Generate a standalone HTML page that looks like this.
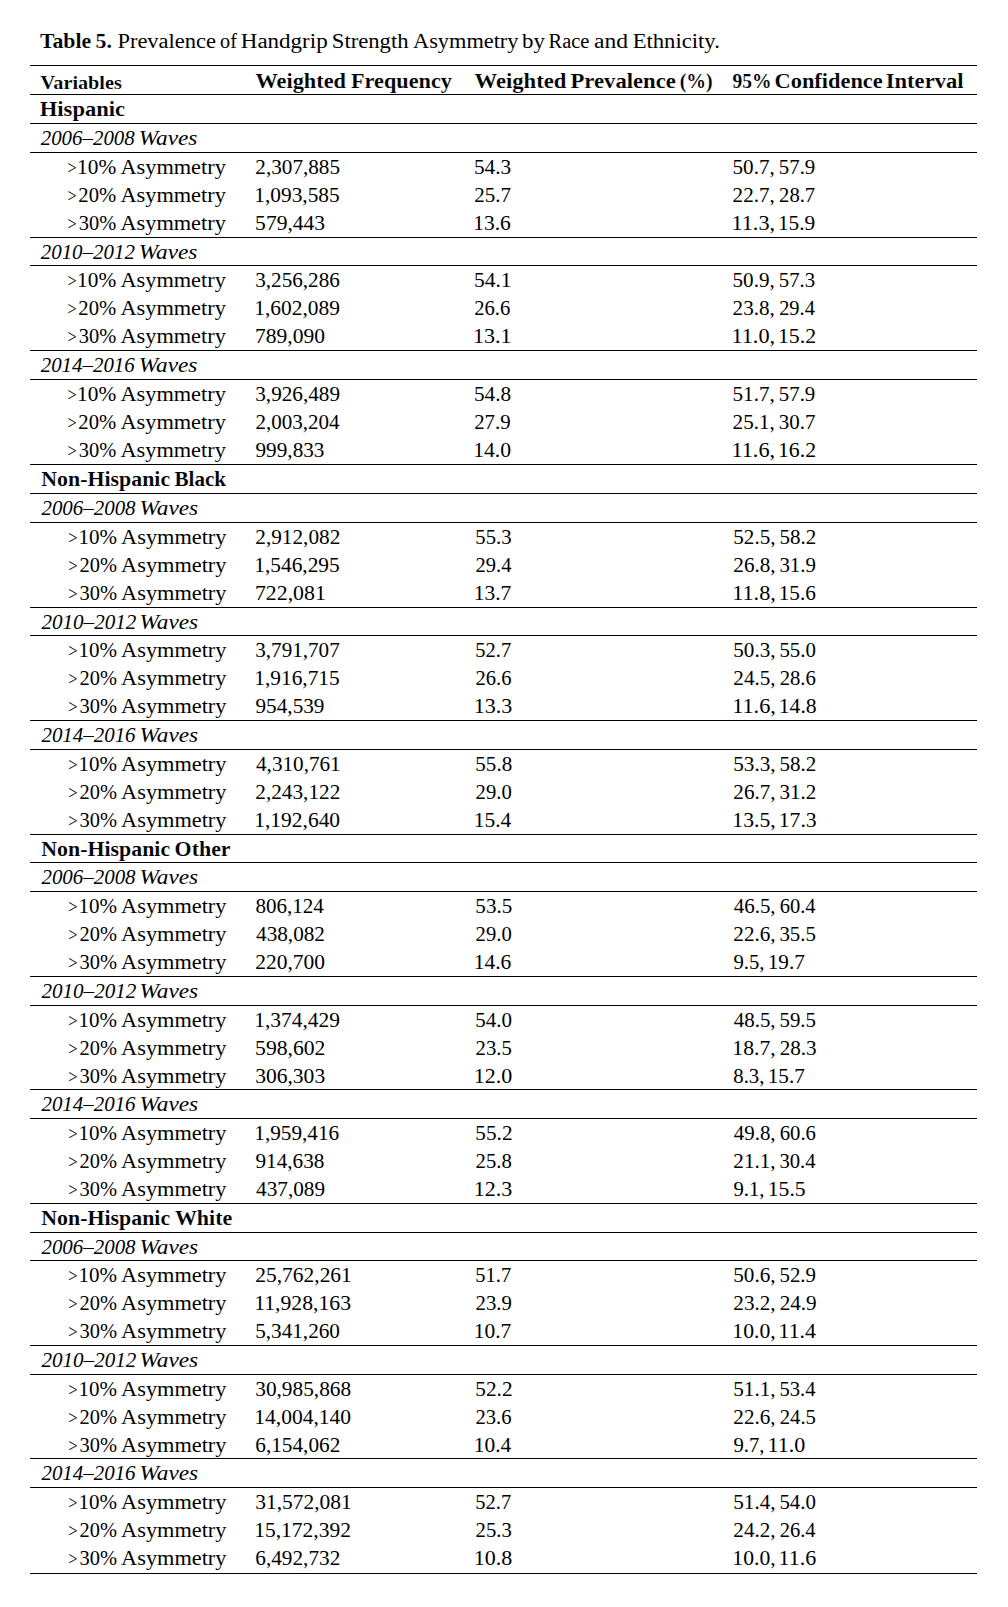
<!DOCTYPE html>
<html><head><meta charset="utf-8"><title>Table 5</title><style>*{margin:0;padding:0}
html,body{width:1008px;height:1607px;background:#fff;overflow:hidden}
body{position:relative;font-family:"Liberation Serif",serif;color:#000;font-size:20.5px;line-height:20.5px}
.l{position:absolute;left:30px;width:947px;height:1px;background:#000}
.x{position:absolute;white-space:nowrap;transform-origin:0 0}
.tb,.b,.h,.v{font-weight:bold}
.i{font-style:italic}
.v{font-size:18.3px;line-height:18.3px}
.g{font-size:18.5px;line-height:18.5px}
.tb,.b,.h,.v{-webkit-text-stroke:0.12px #fff}</style></head><body>
<div class="l" style="top:65px"></div>
<div class="l" style="top:94px"></div>
<div class="l" style="top:123px"></div>
<div class="l" style="top:152px"></div>
<div class="l" style="top:237px"></div>
<div class="l" style="top:265px"></div>
<div class="l" style="top:350px"></div>
<div class="l" style="top:379px"></div>
<div class="l" style="top:464px"></div>
<div class="l" style="top:493px"></div>
<div class="l" style="top:522px"></div>
<div class="l" style="top:607px"></div>
<div class="l" style="top:635px"></div>
<div class="l" style="top:720px"></div>
<div class="l" style="top:749px"></div>
<div class="l" style="top:834px"></div>
<div class="l" style="top:862px"></div>
<div class="l" style="top:891px"></div>
<div class="l" style="top:976px"></div>
<div class="l" style="top:1005px"></div>
<div class="l" style="top:1089px"></div>
<div class="l" style="top:1118px"></div>
<div class="l" style="top:1203px"></div>
<div class="l" style="top:1232px"></div>
<div class="l" style="top:1260px"></div>
<div class="l" style="top:1345px"></div>
<div class="l" style="top:1374px"></div>
<div class="l" style="top:1458px"></div>
<div class="l" style="top:1487px"></div>
<div class="l" style="top:1573px"></div>
<div class="x tb" id="e0" style="left:39px;top:31.23px;transform:matrix(1.0624,0,0,1,0.95,0)">Table</div>
<div class="x tb" id="e1" style="left:95px;top:31.23px;transform:matrix(1.0643,0,0,1,0.62,0)">5.</div>
<div class="x t" id="e2" style="left:117px;top:31.23px;transform:matrix(1.0964,0,0,1,0.41,0)">Prevalence</div>
<div class="x t" id="e3" style="left:220px;top:31.23px;transform:matrix(0.9841,0,0,1,0.05,0)">of</div>
<div class="x t" id="e4" style="left:240px;top:31.23px;transform:matrix(1.1219,0,0,1,0.78,0)">Handgrip</div>
<div class="x t" id="e5" style="left:331px;top:31.23px;transform:matrix(1.1041,0,0,1,0.82,0)">Strength</div>
<div class="x t" id="e6" style="left:413px;top:31.23px;transform:matrix(1.0889,0,0,1,0.06,0)">Asymmetry</div>
<div class="x t" id="e7" style="left:522px;top:31.23px;transform:matrix(1.1173,0,0,1,0.11,0)">by</div>
<div class="x t" id="e8" style="left:548px;top:31.23px;transform:matrix(0.9981,0,0,1,0.50,0)">Race</div>
<div class="x t" id="e9" style="left:594px;top:31.23px;transform:matrix(1.1495,0,0,1,0.03,0)">and</div>
<div class="x t" id="e10" style="left:632px;top:31.23px;transform:matrix(1.1050,0,0,1,0.65,0)">Ethnicity.</div>
<div class="x v" id="e11" style="left:40px;top:73.87px;transform:matrix(1.1063,0,0,1,0.54,0)">Variables</div>
<div class="x h" id="e12" style="left:255px;top:71.43px;transform:matrix(1.0885,0,0,1,0.48,0)">Weighted</div>
<div class="x h" id="e13" style="left:351px;top:71.43px;transform:matrix(1.0844,0,0,1,0.01,0)">Frequency</div>
<div class="x h" id="e14" style="left:474px;top:71.43px;transform:matrix(1.1062,0,0,1,0.47,0)">Weighted</div>
<div class="x h" id="e15" style="left:570px;top:71.43px;transform:matrix(1.1063,0,0,1,0.49,0)">Prevalence</div>
<div class="x h" id="e16" style="left:679px;top:71.43px;transform:matrix(0.9632,0,0,1,0.66,0)">(%)</div>
<div class="x h" id="e17" style="left:732px;top:71.43px;transform:matrix(0.9512,0,0,1,0.48,0)">95%</div>
<div class="x h" id="e18" style="left:774px;top:71.43px;transform:matrix(1.0916,0,0,1,0.56,0)">Confidence</div>
<div class="x h" id="e19" style="left:885px;top:71.43px;transform:matrix(1.1038,0,0,1,0.67,0)">Interval</div>
<div class="x b" id="e20" style="left:39px;top:98.53px;transform:matrix(1.1013,0,0,1,0.76,0)">Hispanic</div>
<div class="x i" id="e21" style="left:40px;top:127.53px;transform:matrix(1.0199,0,0,1,0.69,0)">2006–2008</div>
<div class="x i" id="e22" style="left:138px;top:127.53px;transform:matrix(1.1354,0,0,1,0.74,0)">Waves</div>
<div class="x g" id="e23" style="left:67px;top:159.41px;transform:matrix(0.8776,0,0,1,0.62,0)">&gt;</div>
<div class="x r" id="e24" style="left:77px;top:156.73px;transform:matrix(1.0397,0,0,1,0.08,0)">10%</div>
<div class="x r" id="e25" style="left:120px;top:156.73px;transform:matrix(1.0888,0,0,1,0.42,0)">Asymmetry</div>
<div class="x n" id="e26" style="left:255px;top:156.73px;transform:matrix(1.0329,0,0,1,0.32,0)">2,307,885</div>
<div class="x n" id="e27" style="left:473px;top:156.73px;transform:matrix(1.0377,0,0,1,0.98,0)">54.3</div>
<div class="x n" id="e28" style="left:732px;top:156.73px;transform:matrix(1.0299,0,0,1,0.54,0)">50.7,</div>
<div class="x n" id="e29" style="left:778px;top:156.73px;transform:matrix(1.0164,0,0,1,0.80,0)">57.9</div>
<div class="x g" id="e30" style="left:67px;top:187.31px;transform:matrix(0.8776,0,0,1,0.62,0)">&gt;</div>
<div class="x r" id="e31" style="left:78px;top:184.63px;transform:matrix(1.0068,0,0,1,0.31,0)">20%</div>
<div class="x r" id="e32" style="left:120px;top:184.63px;transform:matrix(1.0888,0,0,1,0.42,0)">Asymmetry</div>
<div class="x n" id="e33" style="left:254px;top:184.63px;transform:matrix(1.0420,0,0,1,0.25,0)">1,093,585</div>
<div class="x n" id="e34" style="left:474px;top:184.63px;transform:matrix(1.0232,0,0,1,0.30,0)">25.7</div>
<div class="x n" id="e35" style="left:732px;top:184.63px;transform:matrix(1.0287,0,0,1,0.60,0)">22.7,</div>
<div class="x n" id="e36" style="left:779px;top:184.63px;transform:matrix(1.0039,0,0,1,0.11,0)">28.7</div>
<div class="x g" id="e37" style="left:67px;top:215.21px;transform:matrix(0.8776,0,0,1,0.62,0)">&gt;</div>
<div class="x r" id="e38" style="left:78px;top:212.53px;transform:matrix(0.9958,0,0,1,0.72,0)">30%</div>
<div class="x r" id="e39" style="left:120px;top:212.53px;transform:matrix(1.0888,0,0,1,0.42,0)">Asymmetry</div>
<div class="x n" id="e40" style="left:255px;top:212.53px;transform:matrix(1.0509,0,0,1,0.12,0)">579,443</div>
<div class="x n" id="e41" style="left:473px;top:212.53px;transform:matrix(1.0445,0,0,1,0.24,0)">13.6</div>
<div class="x n" id="e42" style="left:731px;top:212.53px;transform:matrix(1.0849,0,0,1,0.43,0)">11.3,</div>
<div class="x n" id="e43" style="left:777px;top:212.53px;transform:matrix(1.0400,0,0,1,0.94,0)">15.9</div>
<div class="x i" id="e44" style="left:40px;top:241.53px;transform:matrix(1.0217,0,0,1,0.70,0)">2010–2012</div>
<div class="x i" id="e45" style="left:138px;top:241.53px;transform:matrix(1.1354,0,0,1,0.74,0)">Waves</div>
<div class="x g" id="e46" style="left:67px;top:272.41px;transform:matrix(0.8776,0,0,1,0.62,0)">&gt;</div>
<div class="x r" id="e47" style="left:77px;top:269.73px;transform:matrix(1.0397,0,0,1,0.08,0)">10%</div>
<div class="x r" id="e48" style="left:120px;top:269.73px;transform:matrix(1.0888,0,0,1,0.42,0)">Asymmetry</div>
<div class="x n" id="e49" style="left:255px;top:269.73px;transform:matrix(1.0307,0,0,1,0.25,0)">3,256,286</div>
<div class="x n" id="e50" style="left:473px;top:269.73px;transform:matrix(1.0494,0,0,1,0.94,0)">54.1</div>
<div class="x n" id="e51" style="left:732px;top:269.73px;transform:matrix(1.0299,0,0,1,0.54,0)">50.9,</div>
<div class="x n" id="e52" style="left:778px;top:269.73px;transform:matrix(1.0157,0,0,1,0.80,0)">57.3</div>
<div class="x g" id="e53" style="left:67px;top:300.31px;transform:matrix(0.8776,0,0,1,0.62,0)">&gt;</div>
<div class="x r" id="e54" style="left:78px;top:297.63px;transform:matrix(1.0068,0,0,1,0.31,0)">20%</div>
<div class="x r" id="e55" style="left:120px;top:297.63px;transform:matrix(1.0888,0,0,1,0.42,0)">Asymmetry</div>
<div class="x n" id="e56" style="left:254px;top:297.63px;transform:matrix(1.0451,0,0,1,0.25,0)">1,602,089</div>
<div class="x n" id="e57" style="left:474px;top:297.63px;transform:matrix(1.0036,0,0,1,0.30,0)">26.6</div>
<div class="x n" id="e58" style="left:732px;top:297.63px;transform:matrix(1.0287,0,0,1,0.60,0)">23.8,</div>
<div class="x n" id="e59" style="left:779px;top:297.63px;transform:matrix(0.9957,0,0,1,0.16,0)">29.4</div>
<div class="x g" id="e60" style="left:67px;top:328.21px;transform:matrix(0.8776,0,0,1,0.62,0)">&gt;</div>
<div class="x r" id="e61" style="left:78px;top:325.53px;transform:matrix(0.9958,0,0,1,0.72,0)">30%</div>
<div class="x r" id="e62" style="left:120px;top:325.53px;transform:matrix(1.0888,0,0,1,0.42,0)">Asymmetry</div>
<div class="x n" id="e63" style="left:254px;top:325.53px;transform:matrix(1.0508,0,0,1,1.00,0)">789,090</div>
<div class="x n" id="e64" style="left:473px;top:325.53px;transform:matrix(1.0736,0,0,1,0.09,0)">13.1</div>
<div class="x n" id="e65" style="left:731px;top:325.53px;transform:matrix(1.0849,0,0,1,0.43,0)">11.0,</div>
<div class="x n" id="e66" style="left:777px;top:325.53px;transform:matrix(1.0624,0,0,1,0.94,0)">15.2</div>
<div class="x i" id="e67" style="left:40px;top:354.53px;transform:matrix(1.0197,0,0,1,0.69,0)">2014–2016</div>
<div class="x i" id="e68" style="left:138px;top:354.53px;transform:matrix(1.1354,0,0,1,0.74,0)">Waves</div>
<div class="x g" id="e69" style="left:67px;top:386.41px;transform:matrix(0.8776,0,0,1,0.62,0)">&gt;</div>
<div class="x r" id="e70" style="left:77px;top:383.73px;transform:matrix(1.0397,0,0,1,0.08,0)">10%</div>
<div class="x r" id="e71" style="left:120px;top:383.73px;transform:matrix(1.0888,0,0,1,0.42,0)">Asymmetry</div>
<div class="x n" id="e72" style="left:255px;top:383.73px;transform:matrix(1.0333,0,0,1,0.24,0)">3,926,489</div>
<div class="x n" id="e73" style="left:473px;top:383.73px;transform:matrix(1.0361,0,0,1,0.98,0)">54.8</div>
<div class="x n" id="e74" style="left:732px;top:383.73px;transform:matrix(1.0299,0,0,1,0.54,0)">51.7,</div>
<div class="x n" id="e75" style="left:778px;top:383.73px;transform:matrix(1.0164,0,0,1,0.80,0)">57.9</div>
<div class="x g" id="e76" style="left:67px;top:414.31px;transform:matrix(0.8776,0,0,1,0.62,0)">&gt;</div>
<div class="x r" id="e77" style="left:78px;top:411.63px;transform:matrix(1.0068,0,0,1,0.31,0)">20%</div>
<div class="x r" id="e78" style="left:120px;top:411.63px;transform:matrix(1.0888,0,0,1,0.42,0)">Asymmetry</div>
<div class="x n" id="e79" style="left:255px;top:411.63px;transform:matrix(1.0261,0,0,1,0.39,0)">2,003,204</div>
<div class="x n" id="e80" style="left:474px;top:411.63px;transform:matrix(1.0141,0,0,1,0.15,0)">27.9</div>
<div class="x n" id="e81" style="left:732px;top:411.63px;transform:matrix(1.0287,0,0,1,0.60,0)">25.1,</div>
<div class="x n" id="e82" style="left:778px;top:411.63px;transform:matrix(1.0217,0,0,1,0.72,0)">30.7</div>
<div class="x g" id="e83" style="left:67px;top:442.21px;transform:matrix(0.8776,0,0,1,0.62,0)">&gt;</div>
<div class="x r" id="e84" style="left:78px;top:439.53px;transform:matrix(0.9958,0,0,1,0.72,0)">30%</div>
<div class="x r" id="e85" style="left:120px;top:439.53px;transform:matrix(1.0888,0,0,1,0.42,0)">Asymmetry</div>
<div class="x n" id="e86" style="left:255px;top:439.53px;transform:matrix(1.0345,0,0,1,0.52,0)">999,833</div>
<div class="x n" id="e87" style="left:473px;top:439.53px;transform:matrix(1.0546,0,0,1,0.14,0)">14.0</div>
<div class="x n" id="e88" style="left:731px;top:439.53px;transform:matrix(1.0849,0,0,1,0.43,0)">11.6,</div>
<div class="x n" id="e89" style="left:777px;top:439.53px;transform:matrix(1.0624,0,0,1,0.94,0)">16.2</div>
<div class="x b" id="e90" style="left:41px;top:468.53px;transform:matrix(1.0666,0,0,1,0.32,0)">Non-Hispanic</div>
<div class="x b" id="e91" style="left:174px;top:468.53px;transform:matrix(1.0309,0,0,1,0.45,0)">Black</div>
<div class="x i" id="e92" style="left:41px;top:497.53px;transform:matrix(1.0206,0,0,1,0.42,0)">2006–2008</div>
<div class="x i" id="e93" style="left:139px;top:497.53px;transform:matrix(1.1345,0,0,1,0.53,0)">Waves</div>
<div class="x g" id="e94" style="left:68px;top:529.41px;transform:matrix(0.8952,0,0,1,0.28,0)">&gt;</div>
<div class="x r" id="e95" style="left:78px;top:526.73px;transform:matrix(1.0249,0,0,1,0.45,0)">10%</div>
<div class="x r" id="e96" style="left:121px;top:526.73px;transform:matrix(1.0879,0,0,1,0.12,0)">Asymmetry</div>
<div class="x n" id="e97" style="left:255px;top:526.73px;transform:matrix(1.0364,0,0,1,0.29,0)">2,912,082</div>
<div class="x n" id="e98" style="left:475px;top:526.73px;transform:matrix(1.0071,0,0,1,0.36,0)">55.3</div>
<div class="x n" id="e99" style="left:733px;top:526.73px;transform:matrix(1.0310,0,0,1,0.25,0)">52.5,</div>
<div class="x n" id="e100" style="left:779px;top:526.73px;transform:matrix(1.0247,0,0,1,0.44,0)">58.2</div>
<div class="x g" id="e101" style="left:68px;top:557.31px;transform:matrix(0.8952,0,0,1,0.28,0)">&gt;</div>
<div class="x r" id="e102" style="left:79px;top:554.63px;transform:matrix(0.9944,0,0,1,0.61,0)">20%</div>
<div class="x r" id="e103" style="left:121px;top:554.63px;transform:matrix(1.0879,0,0,1,0.12,0)">Asymmetry</div>
<div class="x n" id="e104" style="left:254px;top:554.63px;transform:matrix(1.0420,0,0,1,0.25,0)">1,546,295</div>
<div class="x n" id="e105" style="left:475px;top:554.63px;transform:matrix(1.0016,0,0,1,0.56,0)">29.4</div>
<div class="x n" id="e106" style="left:733px;top:554.63px;transform:matrix(1.0299,0,0,1,0.33,0)">26.8,</div>
<div class="x n" id="e107" style="left:779px;top:554.63px;transform:matrix(1.0197,0,0,1,0.42,0)">31.9</div>
<div class="x g" id="e108" style="left:68px;top:585.21px;transform:matrix(0.8952,0,0,1,0.28,0)">&gt;</div>
<div class="x r" id="e109" style="left:79px;top:582.53px;transform:matrix(0.9974,0,0,1,0.47,0)">30%</div>
<div class="x r" id="e110" style="left:121px;top:582.53px;transform:matrix(1.0879,0,0,1,0.12,0)">Asymmetry</div>
<div class="x n" id="e111" style="left:254px;top:582.53px;transform:matrix(1.0626,0,0,1,0.98,0)">722,081</div>
<div class="x n" id="e112" style="left:473px;top:582.53px;transform:matrix(1.0452,0,0,1,0.73,0)">13.7</div>
<div class="x n" id="e113" style="left:732px;top:582.53px;transform:matrix(1.0860,0,0,1,0.13,0)">11.8,</div>
<div class="x n" id="e114" style="left:778px;top:582.53px;transform:matrix(1.0352,0,0,1,0.76,0)">15.6</div>
<div class="x i" id="e115" style="left:41px;top:611.53px;transform:matrix(1.0293,0,0,1,0.42,0)">2010–2012</div>
<div class="x i" id="e116" style="left:139px;top:611.53px;transform:matrix(1.1345,0,0,1,0.53,0)">Waves</div>
<div class="x g" id="e117" style="left:68px;top:642.41px;transform:matrix(0.8952,0,0,1,0.28,0)">&gt;</div>
<div class="x r" id="e118" style="left:78px;top:639.73px;transform:matrix(1.0249,0,0,1,0.45,0)">10%</div>
<div class="x r" id="e119" style="left:121px;top:639.73px;transform:matrix(1.0879,0,0,1,0.12,0)">Asymmetry</div>
<div class="x n" id="e120" style="left:255px;top:639.73px;transform:matrix(1.0299,0,0,1,0.25,0)">3,791,707</div>
<div class="x n" id="e121" style="left:475px;top:639.73px;transform:matrix(0.9996,0,0,1,0.35,0)">52.7</div>
<div class="x n" id="e122" style="left:733px;top:639.73px;transform:matrix(1.0310,0,0,1,0.25,0)">50.3,</div>
<div class="x n" id="e123" style="left:779px;top:639.73px;transform:matrix(1.0173,0,0,1,0.44,0)">55.0</div>
<div class="x g" id="e124" style="left:68px;top:670.31px;transform:matrix(0.8952,0,0,1,0.28,0)">&gt;</div>
<div class="x r" id="e125" style="left:79px;top:667.63px;transform:matrix(0.9944,0,0,1,0.61,0)">20%</div>
<div class="x r" id="e126" style="left:121px;top:667.63px;transform:matrix(1.0879,0,0,1,0.12,0)">Asymmetry</div>
<div class="x n" id="e127" style="left:254px;top:667.63px;transform:matrix(1.0420,0,0,1,0.25,0)">1,916,715</div>
<div class="x n" id="e128" style="left:475px;top:667.63px;transform:matrix(1.0013,0,0,1,0.56,0)">26.6</div>
<div class="x n" id="e129" style="left:733px;top:667.63px;transform:matrix(1.0299,0,0,1,0.33,0)">24.5,</div>
<div class="x n" id="e130" style="left:779px;top:667.63px;transform:matrix(1.0112,0,0,1,0.64,0)">28.6</div>
<div class="x g" id="e131" style="left:68px;top:698.21px;transform:matrix(0.8952,0,0,1,0.28,0)">&gt;</div>
<div class="x r" id="e132" style="left:79px;top:695.53px;transform:matrix(0.9974,0,0,1,0.47,0)">30%</div>
<div class="x r" id="e133" style="left:121px;top:695.53px;transform:matrix(1.0879,0,0,1,0.12,0)">Asymmetry</div>
<div class="x n" id="e134" style="left:255px;top:695.53px;transform:matrix(1.0344,0,0,1,0.52,0)">954,539</div>
<div class="x n" id="e135" style="left:473px;top:695.53px;transform:matrix(1.0746,0,0,1,0.74,0)">13.3</div>
<div class="x n" id="e136" style="left:732px;top:695.53px;transform:matrix(1.0860,0,0,1,0.13,0)">11.6,</div>
<div class="x n" id="e137" style="left:778px;top:695.53px;transform:matrix(1.0561,0,0,1,0.73,0)">14.8</div>
<div class="x i" id="e138" style="left:41px;top:724.53px;transform:matrix(1.0206,0,0,1,0.42,0)">2014–2016</div>
<div class="x i" id="e139" style="left:139px;top:724.53px;transform:matrix(1.1345,0,0,1,0.53,0)">Waves</div>
<div class="x g" id="e140" style="left:68px;top:756.41px;transform:matrix(0.8952,0,0,1,0.28,0)">&gt;</div>
<div class="x r" id="e141" style="left:78px;top:753.73px;transform:matrix(1.0249,0,0,1,0.45,0)">10%</div>
<div class="x r" id="e142" style="left:121px;top:753.73px;transform:matrix(1.0879,0,0,1,0.12,0)">Asymmetry</div>
<div class="x n" id="e143" style="left:256px;top:753.73px;transform:matrix(1.0323,0,0,1,0.04,0)">4,310,761</div>
<div class="x n" id="e144" style="left:475px;top:753.73px;transform:matrix(1.0256,0,0,1,0.36,0)">55.8</div>
<div class="x n" id="e145" style="left:733px;top:753.73px;transform:matrix(1.0310,0,0,1,0.25,0)">53.3,</div>
<div class="x n" id="e146" style="left:779px;top:753.73px;transform:matrix(1.0247,0,0,1,0.44,0)">58.2</div>
<div class="x g" id="e147" style="left:68px;top:784.31px;transform:matrix(0.8952,0,0,1,0.28,0)">&gt;</div>
<div class="x r" id="e148" style="left:79px;top:781.63px;transform:matrix(0.9944,0,0,1,0.61,0)">20%</div>
<div class="x r" id="e149" style="left:121px;top:781.63px;transform:matrix(1.0879,0,0,1,0.12,0)">Asymmetry</div>
<div class="x n" id="e150" style="left:255px;top:781.63px;transform:matrix(1.0364,0,0,1,0.29,0)">2,243,122</div>
<div class="x n" id="e151" style="left:475px;top:781.63px;transform:matrix(1.0067,0,0,1,0.60,0)">29.0</div>
<div class="x n" id="e152" style="left:733px;top:781.63px;transform:matrix(1.0299,0,0,1,0.33,0)">26.7,</div>
<div class="x n" id="e153" style="left:779px;top:781.63px;transform:matrix(1.0252,0,0,1,0.41,0)">31.2</div>
<div class="x g" id="e154" style="left:68px;top:812.21px;transform:matrix(0.8952,0,0,1,0.28,0)">&gt;</div>
<div class="x r" id="e155" style="left:79px;top:809.53px;transform:matrix(0.9974,0,0,1,0.47,0)">30%</div>
<div class="x r" id="e156" style="left:121px;top:809.53px;transform:matrix(1.0879,0,0,1,0.12,0)">Asymmetry</div>
<div class="x n" id="e157" style="left:254px;top:809.53px;transform:matrix(1.0468,0,0,1,0.25,0)">1,192,640</div>
<div class="x n" id="e158" style="left:473px;top:809.53px;transform:matrix(1.0457,0,0,1,0.77,0)">15.4</div>
<div class="x n" id="e159" style="left:732px;top:809.53px;transform:matrix(1.0570,0,0,1,0.33,0)">13.5,</div>
<div class="x n" id="e160" style="left:778px;top:809.53px;transform:matrix(1.0573,0,0,1,0.73,0)">17.3</div>
<div class="x b" id="e161" style="left:41px;top:838.53px;transform:matrix(1.0666,0,0,1,0.32,0)">Non-Hispanic</div>
<div class="x b" id="e162" style="left:174px;top:838.53px;transform:matrix(1.0698,0,0,1,0.58,0)">Other</div>
<div class="x i" id="e163" style="left:41px;top:866.53px;transform:matrix(1.0206,0,0,1,0.42,0)">2006–2008</div>
<div class="x i" id="e164" style="left:139px;top:866.53px;transform:matrix(1.1345,0,0,1,0.53,0)">Waves</div>
<div class="x g" id="e165" style="left:68px;top:898.41px;transform:matrix(0.8952,0,0,1,0.28,0)">&gt;</div>
<div class="x r" id="e166" style="left:78px;top:895.73px;transform:matrix(1.0249,0,0,1,0.45,0)">10%</div>
<div class="x r" id="e167" style="left:121px;top:895.73px;transform:matrix(1.0879,0,0,1,0.12,0)">Asymmetry</div>
<div class="x n" id="e168" style="left:255px;top:895.73px;transform:matrix(1.0265,0,0,1,0.43,0)">806,124</div>
<div class="x n" id="e169" style="left:475px;top:895.73px;transform:matrix(1.0267,0,0,1,0.36,0)">53.5</div>
<div class="x n" id="e170" style="left:733px;top:895.73px;transform:matrix(1.0218,0,0,1,0.71,0)">46.5,</div>
<div class="x n" id="e171" style="left:779px;top:895.73px;transform:matrix(1.0014,0,0,1,0.69,0)">60.4</div>
<div class="x g" id="e172" style="left:68px;top:926.31px;transform:matrix(0.8952,0,0,1,0.28,0)">&gt;</div>
<div class="x r" id="e173" style="left:79px;top:923.63px;transform:matrix(0.9944,0,0,1,0.61,0)">20%</div>
<div class="x r" id="e174" style="left:121px;top:923.63px;transform:matrix(1.0879,0,0,1,0.12,0)">Asymmetry</div>
<div class="x n" id="e175" style="left:256px;top:923.63px;transform:matrix(1.0339,0,0,1,0.04,0)">438,082</div>
<div class="x n" id="e176" style="left:475px;top:923.63px;transform:matrix(1.0067,0,0,1,0.60,0)">29.0</div>
<div class="x n" id="e177" style="left:733px;top:923.63px;transform:matrix(1.0299,0,0,1,0.33,0)">22.6,</div>
<div class="x n" id="e178" style="left:779px;top:923.63px;transform:matrix(1.0187,0,0,1,0.42,0)">35.5</div>
<div class="x g" id="e179" style="left:68px;top:954.21px;transform:matrix(0.8952,0,0,1,0.28,0)">&gt;</div>
<div class="x r" id="e180" style="left:79px;top:951.53px;transform:matrix(0.9974,0,0,1,0.47,0)">30%</div>
<div class="x r" id="e181" style="left:121px;top:951.53px;transform:matrix(1.0879,0,0,1,0.12,0)">Asymmetry</div>
<div class="x n" id="e182" style="left:255px;top:951.53px;transform:matrix(1.0473,0,0,1,0.29,0)">220,700</div>
<div class="x n" id="e183" style="left:473px;top:951.53px;transform:matrix(1.0464,0,0,1,0.73,0)">14.6</div>
<div class="x n" id="e184" style="left:733px;top:951.53px;transform:matrix(1.0094,0,0,1,0.40,0)">9.5,</div>
<div class="x n" id="e185" style="left:767px;top:951.53px;transform:matrix(1.0343,0,0,1,0.76,0)">19.7</div>
<div class="x i" id="e186" style="left:41px;top:980.53px;transform:matrix(1.0293,0,0,1,0.42,0)">2010–2012</div>
<div class="x i" id="e187" style="left:139px;top:980.53px;transform:matrix(1.1345,0,0,1,0.53,0)">Waves</div>
<div class="x g" id="e188" style="left:68px;top:1012.41px;transform:matrix(0.8952,0,0,1,0.28,0)">&gt;</div>
<div class="x r" id="e189" style="left:78px;top:1009.73px;transform:matrix(1.0249,0,0,1,0.45,0)">10%</div>
<div class="x r" id="e190" style="left:121px;top:1009.73px;transform:matrix(1.0879,0,0,1,0.12,0)">Asymmetry</div>
<div class="x n" id="e191" style="left:254px;top:1009.73px;transform:matrix(1.0451,0,0,1,0.25,0)">1,374,429</div>
<div class="x n" id="e192" style="left:475px;top:1009.73px;transform:matrix(1.0243,0,0,1,0.36,0)">54.0</div>
<div class="x n" id="e193" style="left:733px;top:1009.73px;transform:matrix(1.0218,0,0,1,0.71,0)">48.5,</div>
<div class="x n" id="e194" style="left:779px;top:1009.73px;transform:matrix(1.0182,0,0,1,0.44,0)">59.5</div>
<div class="x g" id="e195" style="left:68px;top:1040.31px;transform:matrix(0.8952,0,0,1,0.28,0)">&gt;</div>
<div class="x r" id="e196" style="left:79px;top:1037.63px;transform:matrix(0.9944,0,0,1,0.61,0)">20%</div>
<div class="x r" id="e197" style="left:121px;top:1037.63px;transform:matrix(1.0879,0,0,1,0.12,0)">Asymmetry</div>
<div class="x n" id="e198" style="left:255px;top:1037.63px;transform:matrix(1.0553,0,0,1,0.12,0)">598,602</div>
<div class="x n" id="e199" style="left:475px;top:1037.63px;transform:matrix(1.0086,0,0,1,0.59,0)">23.5</div>
<div class="x n" id="e200" style="left:732px;top:1037.63px;transform:matrix(1.0570,0,0,1,0.33,0)">18.7,</div>
<div class="x n" id="e201" style="left:779px;top:1037.63px;transform:matrix(1.0324,0,0,1,0.63,0)">28.3</div>
<div class="x g" id="e202" style="left:68px;top:1068.21px;transform:matrix(0.8952,0,0,1,0.28,0)">&gt;</div>
<div class="x r" id="e203" style="left:79px;top:1065.53px;transform:matrix(0.9974,0,0,1,0.47,0)">30%</div>
<div class="x r" id="e204" style="left:121px;top:1065.53px;transform:matrix(1.0879,0,0,1,0.12,0)">Asymmetry</div>
<div class="x n" id="e205" style="left:255px;top:1065.53px;transform:matrix(1.0501,0,0,1,0.18,0)">306,303</div>
<div class="x n" id="e206" style="left:473px;top:1065.53px;transform:matrix(1.0720,0,0,1,0.74,0)">12.0</div>
<div class="x n" id="e207" style="left:733px;top:1065.53px;transform:matrix(1.0131,0,0,1,0.29,0)">8.3,</div>
<div class="x n" id="e208" style="left:767px;top:1065.53px;transform:matrix(1.0343,0,0,1,0.76,0)">15.7</div>
<div class="x i" id="e209" style="left:41px;top:1093.53px;transform:matrix(1.0206,0,0,1,0.42,0)">2014–2016</div>
<div class="x i" id="e210" style="left:139px;top:1093.53px;transform:matrix(1.1345,0,0,1,0.53,0)">Waves</div>
<div class="x g" id="e211" style="left:68px;top:1125.41px;transform:matrix(0.8952,0,0,1,0.28,0)">&gt;</div>
<div class="x r" id="e212" style="left:78px;top:1122.73px;transform:matrix(1.0249,0,0,1,0.45,0)">10%</div>
<div class="x r" id="e213" style="left:121px;top:1122.73px;transform:matrix(1.0879,0,0,1,0.12,0)">Asymmetry</div>
<div class="x n" id="e214" style="left:254px;top:1122.73px;transform:matrix(1.0354,0,0,1,0.27,0)">1,959,416</div>
<div class="x n" id="e215" style="left:475px;top:1122.73px;transform:matrix(1.0350,0,0,1,0.36,0)">55.2</div>
<div class="x n" id="e216" style="left:733px;top:1122.73px;transform:matrix(1.0218,0,0,1,0.71,0)">49.8,</div>
<div class="x n" id="e217" style="left:779px;top:1122.73px;transform:matrix(1.0097,0,0,1,0.69,0)">60.6</div>
<div class="x g" id="e218" style="left:68px;top:1153.31px;transform:matrix(0.8952,0,0,1,0.28,0)">&gt;</div>
<div class="x r" id="e219" style="left:79px;top:1150.63px;transform:matrix(0.9944,0,0,1,0.61,0)">20%</div>
<div class="x r" id="e220" style="left:121px;top:1150.63px;transform:matrix(1.0879,0,0,1,0.12,0)">Asymmetry</div>
<div class="x n" id="e221" style="left:255px;top:1150.63px;transform:matrix(1.0339,0,0,1,0.52,0)">914,638</div>
<div class="x n" id="e222" style="left:475px;top:1150.63px;transform:matrix(1.0077,0,0,1,0.60,0)">25.8</div>
<div class="x n" id="e223" style="left:733px;top:1150.63px;transform:matrix(1.0299,0,0,1,0.33,0)">21.1,</div>
<div class="x n" id="e224" style="left:779px;top:1150.63px;transform:matrix(1.0100,0,0,1,0.42,0)">30.4</div>
<div class="x g" id="e225" style="left:68px;top:1181.21px;transform:matrix(0.8952,0,0,1,0.28,0)">&gt;</div>
<div class="x r" id="e226" style="left:79px;top:1178.53px;transform:matrix(0.9974,0,0,1,0.47,0)">30%</div>
<div class="x r" id="e227" style="left:121px;top:1178.53px;transform:matrix(1.0879,0,0,1,0.12,0)">Asymmetry</div>
<div class="x n" id="e228" style="left:256px;top:1178.53px;transform:matrix(1.0360,0,0,1,0.04,0)">437,089</div>
<div class="x n" id="e229" style="left:473px;top:1178.53px;transform:matrix(1.0746,0,0,1,0.74,0)">12.3</div>
<div class="x n" id="e230" style="left:733px;top:1178.53px;transform:matrix(1.0094,0,0,1,0.40,0)">9.1,</div>
<div class="x n" id="e231" style="left:767px;top:1178.53px;transform:matrix(1.0565,0,0,1,0.73,0)">15.5</div>
<div class="x b" id="e232" style="left:41px;top:1207.53px;transform:matrix(1.0666,0,0,1,0.32,0)">Non-Hispanic</div>
<div class="x b" id="e233" style="left:174px;top:1207.53px;transform:matrix(1.0720,0,0,1,0.89,0)">White</div>
<div class="x i" id="e234" style="left:41px;top:1236.53px;transform:matrix(1.0206,0,0,1,0.42,0)">2006–2008</div>
<div class="x i" id="e235" style="left:139px;top:1236.53px;transform:matrix(1.1345,0,0,1,0.53,0)">Waves</div>
<div class="x g" id="e236" style="left:68px;top:1267.41px;transform:matrix(0.8952,0,0,1,0.28,0)">&gt;</div>
<div class="x r" id="e237" style="left:78px;top:1264.73px;transform:matrix(1.0249,0,0,1,0.45,0)">10%</div>
<div class="x r" id="e238" style="left:121px;top:1264.73px;transform:matrix(1.0879,0,0,1,0.12,0)">Asymmetry</div>
<div class="x n" id="e239" style="left:255px;top:1264.73px;transform:matrix(1.0461,0,0,1,0.29,0)">25,762,261</div>
<div class="x n" id="e240" style="left:475px;top:1264.73px;transform:matrix(0.9996,0,0,1,0.35,0)">51.7</div>
<div class="x n" id="e241" style="left:733px;top:1264.73px;transform:matrix(1.0310,0,0,1,0.25,0)">50.6,</div>
<div class="x n" id="e242" style="left:779px;top:1264.73px;transform:matrix(1.0197,0,0,1,0.44,0)">52.9</div>
<div class="x g" id="e243" style="left:68px;top:1295.31px;transform:matrix(0.8952,0,0,1,0.28,0)">&gt;</div>
<div class="x r" id="e244" style="left:79px;top:1292.63px;transform:matrix(0.9944,0,0,1,0.61,0)">20%</div>
<div class="x r" id="e245" style="left:121px;top:1292.63px;transform:matrix(1.0879,0,0,1,0.12,0)">Asymmetry</div>
<div class="x n" id="e246" style="left:254px;top:1292.63px;transform:matrix(1.0581,0,0,1,0.22,0)">11,928,163</div>
<div class="x n" id="e247" style="left:475px;top:1292.63px;transform:matrix(1.0117,0,0,1,0.59,0)">23.9</div>
<div class="x n" id="e248" style="left:733px;top:1292.63px;transform:matrix(1.0299,0,0,1,0.33,0)">23.2,</div>
<div class="x n" id="e249" style="left:779px;top:1292.63px;transform:matrix(1.0336,0,0,1,0.63,0)">24.9</div>
<div class="x g" id="e250" style="left:68px;top:1323.21px;transform:matrix(0.8952,0,0,1,0.28,0)">&gt;</div>
<div class="x r" id="e251" style="left:79px;top:1320.53px;transform:matrix(0.9974,0,0,1,0.47,0)">30%</div>
<div class="x r" id="e252" style="left:121px;top:1320.53px;transform:matrix(1.0879,0,0,1,0.12,0)">Asymmetry</div>
<div class="x n" id="e253" style="left:255px;top:1320.53px;transform:matrix(1.0342,0,0,1,0.15,0)">5,341,260</div>
<div class="x n" id="e254" style="left:473px;top:1320.53px;transform:matrix(1.0452,0,0,1,0.73,0)">10.7</div>
<div class="x n" id="e255" style="left:732px;top:1320.53px;transform:matrix(1.0570,0,0,1,0.33,0)">10.0,</div>
<div class="x n" id="e256" style="left:778px;top:1320.53px;transform:matrix(1.0664,0,0,1,0.56,0)">11.4</div>
<div class="x i" id="e257" style="left:41px;top:1349.53px;transform:matrix(1.0293,0,0,1,0.42,0)">2010–2012</div>
<div class="x i" id="e258" style="left:139px;top:1349.53px;transform:matrix(1.1345,0,0,1,0.53,0)">Waves</div>
<div class="x g" id="e259" style="left:68px;top:1381.41px;transform:matrix(0.8952,0,0,1,0.28,0)">&gt;</div>
<div class="x r" id="e260" style="left:78px;top:1378.73px;transform:matrix(1.0249,0,0,1,0.45,0)">10%</div>
<div class="x r" id="e261" style="left:121px;top:1378.73px;transform:matrix(1.0879,0,0,1,0.12,0)">Asymmetry</div>
<div class="x n" id="e262" style="left:255px;top:1378.73px;transform:matrix(1.0394,0,0,1,0.24,0)">30,985,868</div>
<div class="x n" id="e263" style="left:475px;top:1378.73px;transform:matrix(1.0350,0,0,1,0.36,0)">52.2</div>
<div class="x n" id="e264" style="left:733px;top:1378.73px;transform:matrix(1.0310,0,0,1,0.25,0)">51.1,</div>
<div class="x n" id="e265" style="left:779px;top:1378.73px;transform:matrix(1.0060,0,0,1,0.48,0)">53.4</div>
<div class="x g" id="e266" style="left:68px;top:1409.31px;transform:matrix(0.8952,0,0,1,0.28,0)">&gt;</div>
<div class="x r" id="e267" style="left:79px;top:1406.63px;transform:matrix(0.9944,0,0,1,0.61,0)">20%</div>
<div class="x r" id="e268" style="left:121px;top:1406.63px;transform:matrix(1.0879,0,0,1,0.12,0)">Asymmetry</div>
<div class="x n" id="e269" style="left:254px;top:1406.63px;transform:matrix(1.0490,0,0,1,0.25,0)">14,004,140</div>
<div class="x n" id="e270" style="left:475px;top:1406.63px;transform:matrix(1.0013,0,0,1,0.56,0)">23.6</div>
<div class="x n" id="e271" style="left:733px;top:1406.63px;transform:matrix(1.0299,0,0,1,0.33,0)">22.6,</div>
<div class="x n" id="e272" style="left:779px;top:1406.63px;transform:matrix(1.0129,0,0,1,0.63,0)">24.5</div>
<div class="x g" id="e273" style="left:68px;top:1437.21px;transform:matrix(0.8952,0,0,1,0.28,0)">&gt;</div>
<div class="x r" id="e274" style="left:79px;top:1434.53px;transform:matrix(0.9974,0,0,1,0.47,0)">30%</div>
<div class="x r" id="e275" style="left:121px;top:1434.53px;transform:matrix(1.0879,0,0,1,0.12,0)">Asymmetry</div>
<div class="x n" id="e276" style="left:255px;top:1434.53px;transform:matrix(1.0364,0,0,1,0.29,0)">6,154,062</div>
<div class="x n" id="e277" style="left:473px;top:1434.53px;transform:matrix(1.0457,0,0,1,0.77,0)">10.4</div>
<div class="x n" id="e278" style="left:733px;top:1434.53px;transform:matrix(1.0094,0,0,1,0.40,0)">9.7,</div>
<div class="x n" id="e279" style="left:767px;top:1434.53px;transform:matrix(1.0753,0,0,1,0.52,0)">11.0</div>
<div class="x i" id="e280" style="left:41px;top:1462.53px;transform:matrix(1.0206,0,0,1,0.42,0)">2014–2016</div>
<div class="x i" id="e281" style="left:139px;top:1462.53px;transform:matrix(1.1345,0,0,1,0.53,0)">Waves</div>
<div class="x g" id="e282" style="left:68px;top:1494.41px;transform:matrix(0.8952,0,0,1,0.28,0)">&gt;</div>
<div class="x r" id="e283" style="left:78px;top:1491.73px;transform:matrix(1.0249,0,0,1,0.45,0)">10%</div>
<div class="x r" id="e284" style="left:121px;top:1491.73px;transform:matrix(1.0879,0,0,1,0.12,0)">Asymmetry</div>
<div class="x n" id="e285" style="left:255px;top:1491.73px;transform:matrix(1.0466,0,0,1,0.21,0)">31,572,081</div>
<div class="x n" id="e286" style="left:475px;top:1491.73px;transform:matrix(0.9996,0,0,1,0.35,0)">52.7</div>
<div class="x n" id="e287" style="left:733px;top:1491.73px;transform:matrix(1.0310,0,0,1,0.25,0)">51.4,</div>
<div class="x n" id="e288" style="left:779px;top:1491.73px;transform:matrix(1.0173,0,0,1,0.44,0)">54.0</div>
<div class="x g" id="e289" style="left:68px;top:1522.31px;transform:matrix(0.8952,0,0,1,0.28,0)">&gt;</div>
<div class="x r" id="e290" style="left:79px;top:1519.63px;transform:matrix(0.9944,0,0,1,0.61,0)">20%</div>
<div class="x r" id="e291" style="left:121px;top:1519.63px;transform:matrix(1.0879,0,0,1,0.12,0)">Asymmetry</div>
<div class="x n" id="e292" style="left:254px;top:1519.63px;transform:matrix(1.0490,0,0,1,0.23,0)">15,172,392</div>
<div class="x n" id="e293" style="left:475px;top:1519.63px;transform:matrix(1.0095,0,0,1,0.59,0)">25.3</div>
<div class="x n" id="e294" style="left:733px;top:1519.63px;transform:matrix(1.0299,0,0,1,0.33,0)">24.2,</div>
<div class="x n" id="e295" style="left:779px;top:1519.63px;transform:matrix(1.0014,0,0,1,0.69,0)">26.4</div>
<div class="x g" id="e296" style="left:68px;top:1550.21px;transform:matrix(0.8952,0,0,1,0.28,0)">&gt;</div>
<div class="x r" id="e297" style="left:79px;top:1547.53px;transform:matrix(0.9974,0,0,1,0.47,0)">30%</div>
<div class="x r" id="e298" style="left:121px;top:1547.53px;transform:matrix(1.0879,0,0,1,0.12,0)">Asymmetry</div>
<div class="x n" id="e299" style="left:255px;top:1547.53px;transform:matrix(1.0364,0,0,1,0.29,0)">6,492,732</div>
<div class="x n" id="e300" style="left:473px;top:1547.53px;transform:matrix(1.0733,0,0,1,0.74,0)">10.8</div>
<div class="x n" id="e301" style="left:732px;top:1547.53px;transform:matrix(1.0570,0,0,1,0.33,0)">10.0,</div>
<div class="x n" id="e302" style="left:778px;top:1547.53px;transform:matrix(1.0746,0,0,1,0.53,0)">11.6</div>
</body></html>
